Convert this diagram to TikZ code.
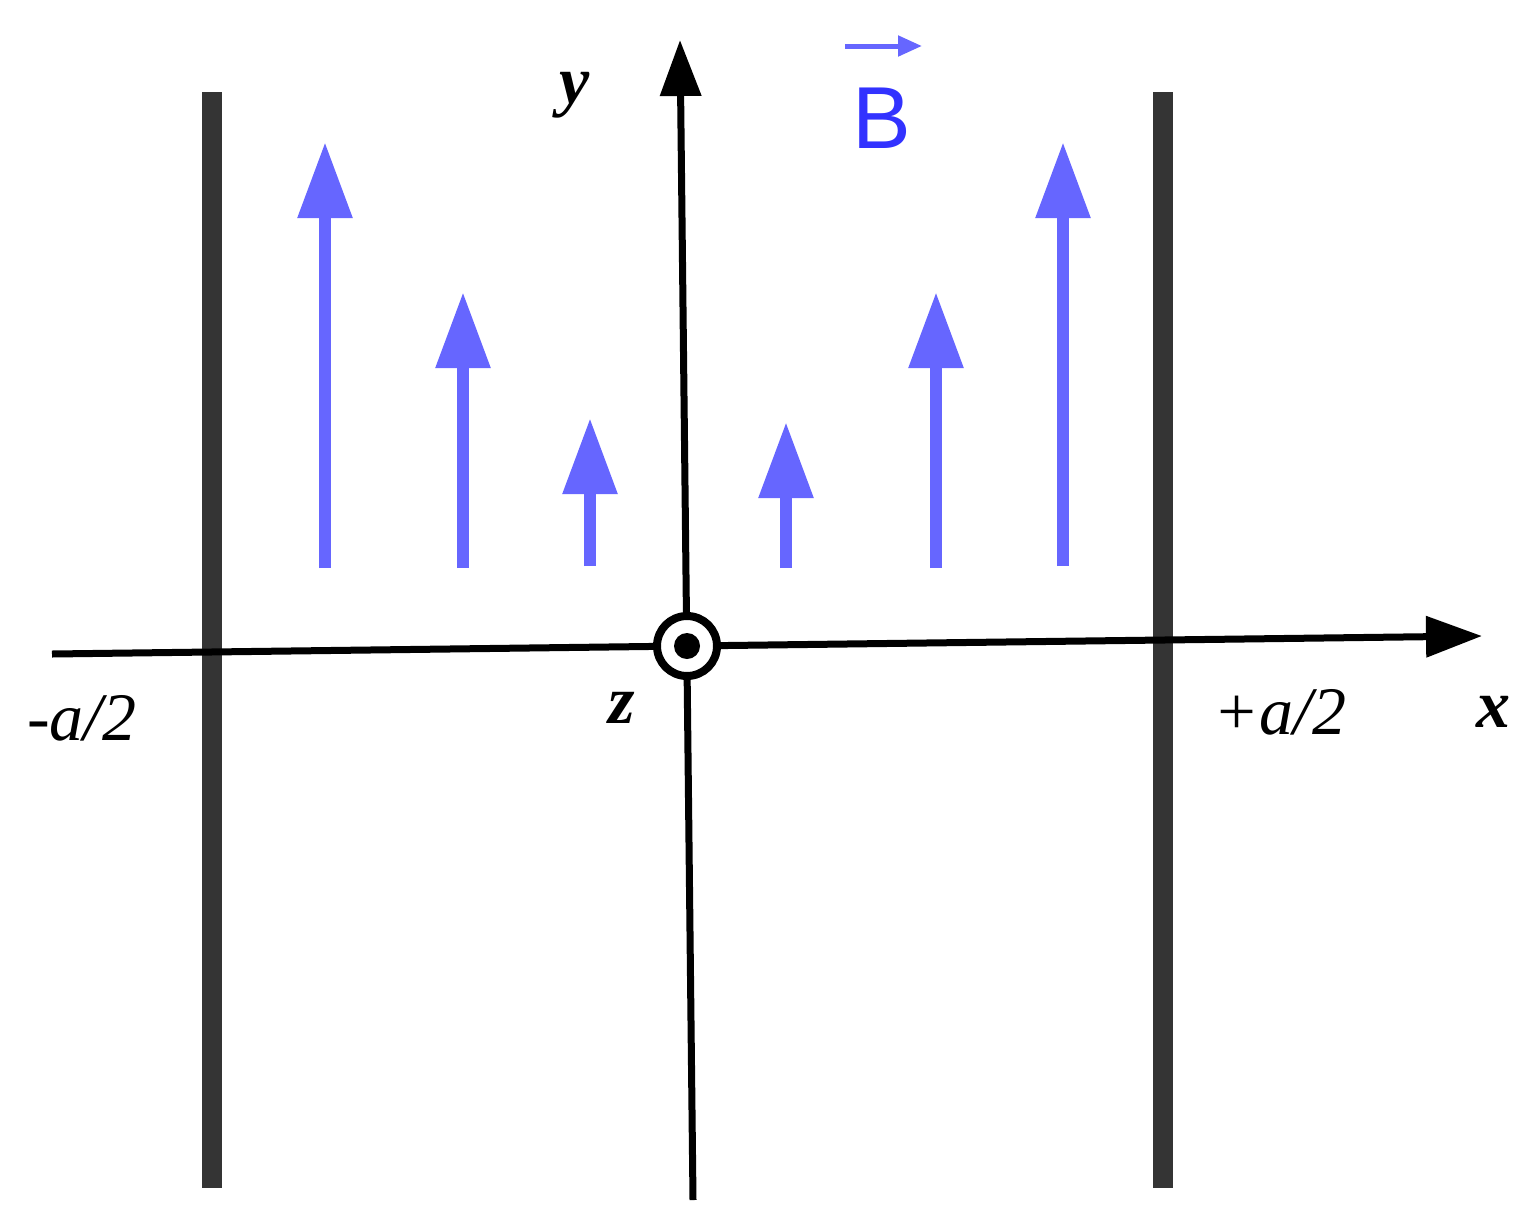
\documentclass[tikz,border=0pt]{standalone}
\usepackage{fontspec}
\setmainfont{Liberation Serif}
\setsansfont{Liberation Sans}
\usetikzlibrary{arrows.meta}
\definecolor{fieldblue}{RGB}{102,102,255}
\definecolor{labelblue}{RGB}{50,50,255}
\definecolor{plategray}{RGB}{52,52,52}
\tikzset{
  plate/.style={draw=plategray,line width=10pt},
  axis/.style={line width=3.5pt,-{Triangle[length=28pt,width=20pt]}},
  field/.style={draw=fieldblue,line width=6pt,-{Triangle[length=38pt,width=26pt]}},
  lbl/.style={font=\fontsize{34}{34}\selectfont}
}
\begin{document}
\begin{tikzpicture}[x=0.5pt,y=-0.5pt]
  \useasboundingbox (0,0) rectangle (1536,1221);
  % plates
  \draw[plate] (212,92) -- (212,1188);
  \draw[plate] (1163,92) -- (1163,1188);
  % axes
  \coordinate (xs) at (52,654);
  \coordinate (xe) at (1482,636);
  \coordinate (ys) at (693,1200);
  \coordinate (ye) at (680,40);
  \draw[axis] (xs) -- (xe);
  \draw[axis] (ys) -- (ye);
  % field arrows
  \foreach \px/\pb/\pt in {325/568/142, 463/568/292, 590/566/418, 786/568/422, 936/568/292, 1063/566/142}
    \draw[field] (\px,\pb) -- (\px,\pt);
  % origin
  \node[circle,draw,line width=4pt,fill=white,minimum size=30pt,inner sep=0pt] (o) at (687,646) {};
  \fill (o.center) circle (6.5pt);
  % labels
  \node[lbl,font=\fontsize{34}{34}\selectfont\bfseries\itshape] (ly) at (575,95) {y};
  \node[lbl,font=\fontsize{44}{44}\selectfont\sffamily,text=labelblue] (lb) at (882,118) {B};
  \draw[fieldblue,line width=2.5pt,-{Triangle[length=12pt,width=10pt]}] (845,46) -- (922,46);
  \node[lbl,font=\fontsize{34}{34}\selectfont\itshape] (lm) at (82,718) {-a/2};
  \node[lbl,font=\fontsize{34}{34}\selectfont\bfseries\itshape] (lz) at (622,708) {z};
  \node[lbl,font=\fontsize{34}{34}\selectfont\itshape] (lp) at (1280,712) {+a/2};
  \node[lbl,font=\fontsize{34}{34}\selectfont\bfseries\itshape] (lx) at (1493,712) {x};
\end{tikzpicture}
\end{document}
